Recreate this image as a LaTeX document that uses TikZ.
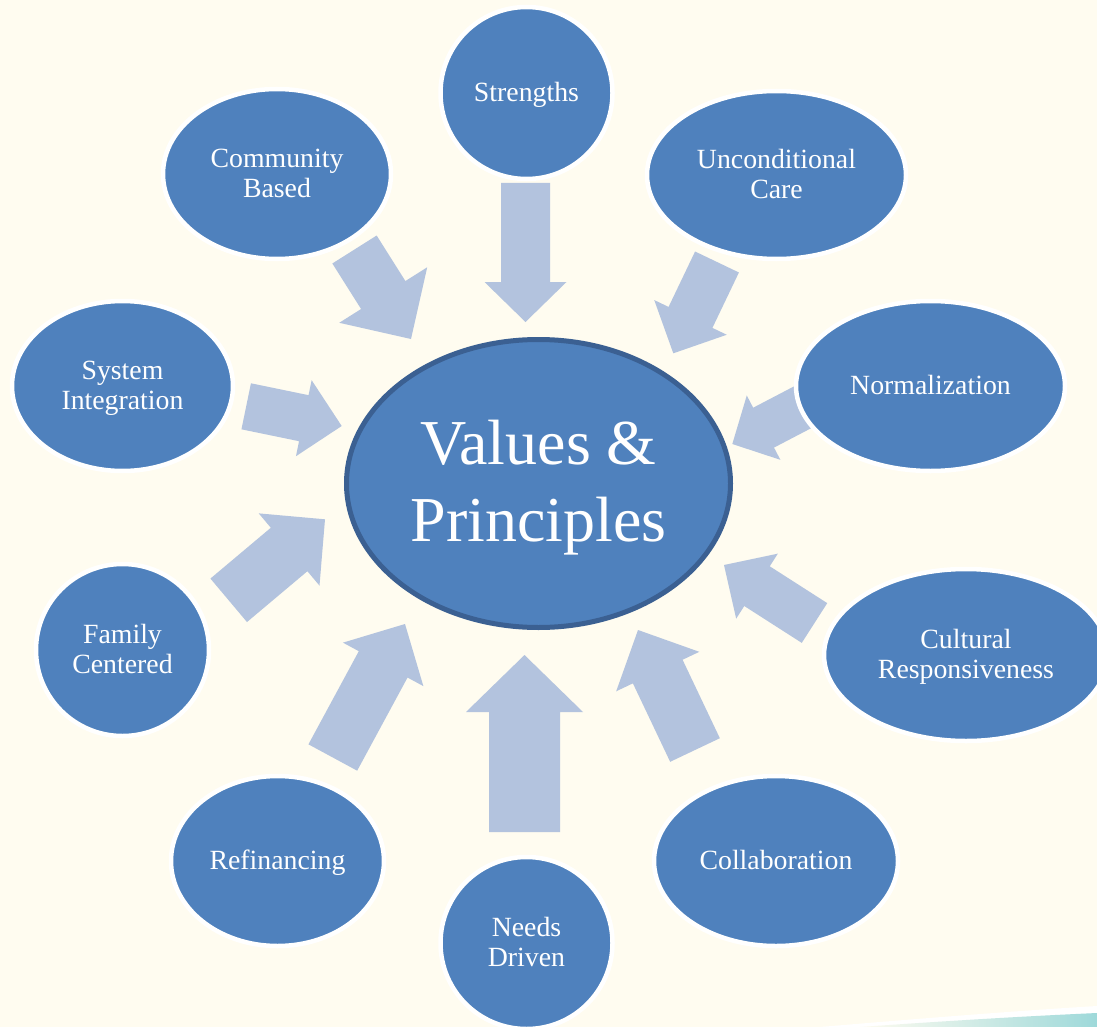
\documentclass[tikz,border=0pt]{standalone}
\usepackage{fontspec}
\setmainfont{Liberation Serif}
\usetikzlibrary{shapes.geometric,calc}
\definecolor{bg}{HTML}{FFFCF0}
\definecolor{blueF}{HTML}{4F81BD}
\definecolor{blueD}{HTML}{3B6092}
\definecolor{arrF}{HTML}{B3C3DE}
\definecolor{tealF}{HTML}{9ED9DA}
\tikzset{
  outer/.style={ellipse, fill=blueF, draw=white, line width=4.5pt, text=white,
    align=center, inner sep=0pt, outer sep=0pt,
    font=\fontsize{27.8}{29.5}\selectfont},
  centre/.style={ellipse, fill=blueF, draw=blueD, line width=5pt, text=white,
    align=center, inner sep=0pt, outer sep=0pt,
    font=\fontsize{64}{77}\selectfont},
  arrowfill/.style={fill=arrF}
}
\newcommand{\lbl}[2][2.5pt]{\raisebox{-#1}[\height][\depth]{\begin{tabular}{@{}c@{}}#2\end{tabular}}}
% tail, tip, shaft half-width, head half-width, head length
\newcommand{\blockarr}[5]{%
  \coordinate (ba-base) at ($(#2)!#5!(#1)$);
  \fill[arrowfill] ($(#1)!#3!90:(#2)$) -- ($(ba-base)!#3!90:(#2)$)
    -- ($(ba-base)!#4!90:(#2)$) -- (#2) -- ($(ba-base)!#4!-90:(#2)$)
    -- ($(ba-base)!#3!-90:(#2)$) -- ($(#1)!#3!-90:(#2)$) -- cycle;}
\begin{document}
\begin{tikzpicture}[x=1pt,y=-1pt]
\useasboundingbox (0,0) rectangle (1097,1027);
\clip (0,0) rectangle (1097,1027);
\fill[bg] (0,0) rectangle (1097,1027);
% bottom-right swoosh
\fill[white] (820,1027) .. controls (950,1016) and (1030,1010) .. (1097,1006) -- (1097,1027) -- cycle;
\shade[left color=bg, right color=tealF] (860,1027) .. controls (960,1020) and (1030,1016) .. (1097,1013) -- (1097,1027) -- cycle;

% arrow tails and tips
\coordinate (t1) at (525.5,183);   \coordinate (h1) at (525.5,322);
\coordinate (t2) at (354.5,249.5); \coordinate (h2) at (411,339);
\coordinate (t3) at (717,262);     \coordinate (h3) at (673.3,353.3);
\coordinate (t4) at (806,405.5);   \coordinate (h4) at (732.3,444);
\coordinate (t5) at (814.5,623);   \coordinate (h5) at (724,565);
\coordinate (t6) at (695,750);     \coordinate (h6) at (638,630);
\coordinate (t7) at (524.5,832);   \coordinate (h7) at (524.5,655);
\coordinate (t8) at (332.8,757.5); \coordinate (h8) at (405,624);
\coordinate (t9) at (228.7,600.3); \coordinate (h9) at (325,519.3);
\coordinate (t10) at (246.2,406.3); \coordinate (h10) at (341.7,426);

\blockarr{t1}{h1}{24.5pt}{41pt}{40pt}
\blockarr{t2}{h2}{26.2pt}{52pt}{52pt}
\blockarr{t3}{h3}{24.3pt}{40.2pt}{39.8pt}
\blockarr{t4}{h4}{22.5pt}{36.3pt}{35.3pt}
\blockarr{t5}{h5}{23.6pt}{38.6pt}{39.2pt}
\blockarr{t6}{h6}{27.5pt}{46pt}{46pt}
\blockarr{t7}{h7}{35.5pt}{58.5pt}{57pt}
\blockarr{t8}{h8}{27.7pt}{45.7pt}{45.9pt}
\blockarr{t9}{h9}{28.4pt}{47.2pt}{46.9pt}
\blockarr{t10}{h10}{23.5pt}{38.8pt}{38.7pt}

% centre
\node[centre, minimum width=384pt, minimum height=288pt] (vp) at (538.5,483.5) {\lbl[4pt]{Values \&\\Principles}};

% outer nodes
\node[outer, minimum width=172pt, minimum height=172pt] (str) at (526.5,93) {\lbl{Strengths}};
\node[outer, minimum width=228pt, minimum height=170pt] (cb) at (277,174) {\lbl{Community\\Based}};
\node[outer, minimum width=259pt, minimum height=168pt] (uc) at (776.5,175) {\lbl{Unconditional\\Care}};
\node[outer, minimum width=269pt, minimum height=170pt] (nor) at (930.5,386) {\lbl{Normalization}};
\node[outer, minimum width=221pt, minimum height=170pt] (si) at (122.5,386) {\lbl{System\\Integration}};
\node[outer, minimum width=173pt, minimum height=172pt] (fc) at (122.5,650) {\lbl{Family\\Centered}};
\node[outer, minimum width=284pt, minimum height=172pt] (cr) at (966,655) {\lbl{Cultural\\Responsiveness}};
\node[outer, minimum width=213pt, minimum height=170pt] (ref) at (277.5,861) {\lbl{Refinancing}};
\node[outer, minimum width=172pt, minimum height=172pt] (nd) at (526.5,943) {\lbl{Needs\\Driven}};
\node[outer, minimum width=244pt, minimum height=170pt] (col) at (776,861) {\lbl{Collaboration}};
\end{tikzpicture}
\end{document}
